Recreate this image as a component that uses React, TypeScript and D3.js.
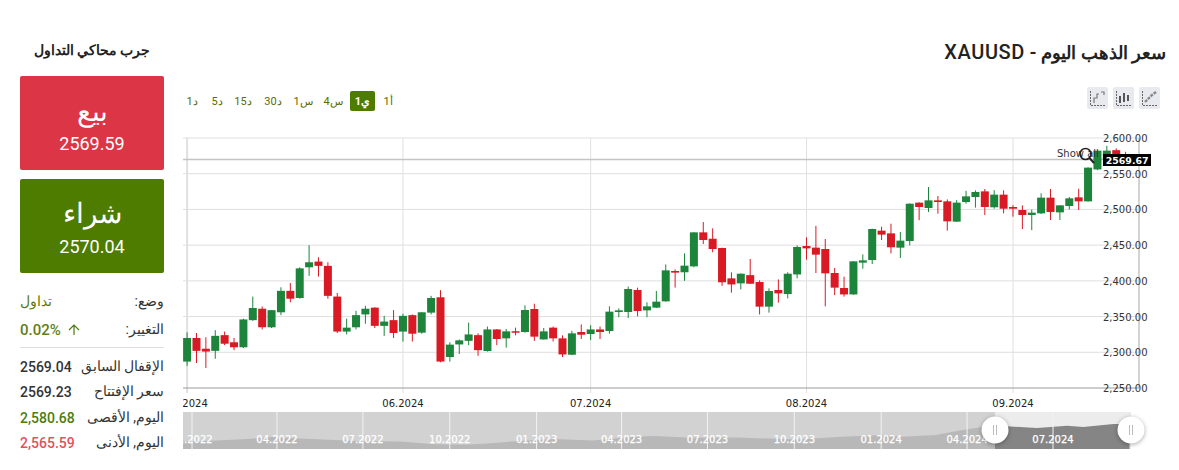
import React from "react";
import * as d3 from "d3";

// [open, high, low, close]
const candles: number[][] = [
[2287,2328,2281,2320],[2320,2327,2285,2302],[2305,2321,2278,2301],[2302,2331,2291,2323],[2324,2329,2310,2312],
[2314,2320,2303,2307],[2307,2347,2306,2346],[2345,2378,2344,2362],[2361,2364,2332,2335],[2335,2359,2334,2359],
[2356,2391,2352,2386],[2386,2397,2370,2375],[2376,2419,2375,2417.5],[2419,2450,2407,2426],[2427,2433,2406,2421],
[2421,2426,2375,2379],[2378,2383,2327,2329],[2329,2347,2325,2334.5],[2335,2358,2332,2352],[2353,2365,2340,2361],
[2362.5,2363,2334,2337],[2337,2351,2323,2343],[2345,2359,2320,2327],[2329,2354,2315,2351],[2352,2353,2315,2326],
[2327.5,2356,2326,2356],[2355.5,2379,2353,2376],[2377,2387,2286,2287],[2293.4,2314,2287,2310.7],[2311,2318,2297.6,2316.7],
[2316,2341.5,2310,2325],[2324,2326.5,2295,2303],[2301.8,2336,2301,2332],[2332,2332.6,2310,2318.6],[2319.5,2332.6,2306.5,2329.3],
[2329.5,2334.5,2323.7,2328],[2328.4,2365.7,2327.5,2359.2],[2360.6,2368,2316,2321.9],[2318,2334,2317.7,2329.3],[2334.5,2336,2315,2319.5],
[2319.5,2323.7,2293.4,2297],[2296.6,2330,2296,2326.5],[2328.4,2339,2318.6,2324.6],[2325.6,2338,2317,2332],[2332,2336,2318.6,2328.4],
[2329.8,2364.3,2326,2356.9],[2356.4,2361.5,2349,2358.7],[2356.4,2392,2348,2388.6],[2387.2,2390.5,2350.3,2357.8],[2358.7,2370,2349,2364.3],
[2362.5,2385.8,2362,2370.9],[2371.3,2423,2370.9,2414.7],[2413.8,2416,2390.5,2411.5],[2412,2438.5,2400,2421.3],[2420.3,2468,2419,2467.9],
[2467.9,2482.4,2451.6,2457.2],[2459,2473.5,2440,2444.6],[2446,2446.5,2393,2398],[2403.5,2412,2383.5,2395],[2396.5,2410.5,2388,2410],
[2408,2430.6,2395.6,2396],[2398.4,2400.7,2353,2363.9],[2363.9,2389.5,2355.5,2385.8],[2387.2,2402,2369.5,2382.5],[2381.6,2412,2375.5,2410],
[2409,2449.7,2403.5,2447.4],[2448.8,2461,2429.7,2445.5],[2446.5,2477,2411,2436.7],[2444.6,2458.6,2364.3,2410.5],[2411,2418,2380,2390.5],
[2390,2405.9,2377.9,2381],[2381,2427.5,2380.5,2427.3],[2425.5,2437,2417,2428.7],[2429.2,2473,2423.6,2472.6],[2470.3,2475.9,2457.2,2464.7],
[2466.5,2480,2438.5,2447],[2446.5,2468.4,2432,2456.3],[2455.8,2508.5,2449.7,2508],[2509.5,2510,2485,2503.4],[2502,2531.4,2496.4,2512.7],
[2512.7,2518.8,2494,2510.4],[2511.3,2514,2470.3,2483.3],[2482.9,2513,2482.4,2509.5],[2510.4,2526,2508,2518.3],[2517.4,2526.7,2502.5,2524.4],
[2525.3,2528.6,2492.2,2503.4],[2503,2527,2501,2520.7],[2520.7,2526.7,2494.5,2501],[2503.4,2506,2489.9,2501],[2499.2,2505.7,2472.6,2492.2],
[2492.2,2499.7,2471,2495.5],[2494.5,2522.5,2493.6,2516.5],[2516.5,2528.6,2485.2,2496.4],[2495.9,2506,2485.2,2505.7],[2504.8,2517.4,2500,2515.5],
[2516.9,2529,2499.2,2511.3],[2511.3,2559,2510.9,2558.5],[2556,2582,2555,2582.3],[2570,2589,2562,2582.3],[2583,2585.5,2565,2570],
[2569.23,2580.68,2565.59,2569.67],
];
const priceTicks = [2250,2300,2350,2400,2450,2500,2550,2600];
const monthTicks: [number,string][] = [[0,"05.2024"],[23,"06.2024"],[43,"07.2024"],[66,"08.2024"],[88,"09.2024"]];
const navDates = ["2021-12-20","2022-01-15","2022-03-01","2022-03-25","2022-04-20","2022-06-01","2022-07-01","2022-08-10","2022-09-15","2022-10-20","2022-11-10","2022-12-10","2023-01-20","2023-03-01","2023-04-15","2023-05-05","2023-06-15","2023-08-01","2023-10-05","2023-11-20","2023-12-28","2024-01-24","2024-02-28","2024-03-21","2024-04-15","2024-05-09","2024-06-14","2024-07-16","2024-08-02","2024-09-03","2024-09-20"];
const navPrices = [1800,1810,1900,1985,1930,1850,1800,1780,1660,1650,1700,1800,1900,1830,2000,2030,1950,1960,1880,2000,2060,2000,2076,2255,2421,2479,2390,2493,2435,2569,2569];
const navTicks = ["2022-01-01","2022-04-01","2022-07-01","2022-10-01","2023-01-01","2023-04-01","2023-07-01","2023-10-01","2024-01-01","2024-04-01","2024-07-01"];
const timeframes = ["1د","5د","15د","30د","1س","4س","1ي","1أ"];
const sideRows = [["الإقفال السابق","2569.04","#333"],["سعر الإفتتاح","2569.23","#333"],["اليوم, الأقصى","2,580.68","#4d7c0f"],["اليوم, الأدنى","2,565.59","#e0525e"]];

const GREEN="#1d843b", RED="#d91a25", FONT='Roboto, sans-serif', CHART='"DejaVu Sans", sans-serif';
const y = d3.scaleLinear().domain([2250,2600]).range([388,138]);
const x = d3.scaleLinear().domain([0,100]).range([187.1,1125.6]);
const navX = d3.scaleTime().domain([new Date("2022-01-01"),new Date("2024-07-01")]).range([192,1053]);
const navY = d3.scaleLinear().domain([1449,3107]).range([449,412]);
const navPts = navDates.map((d,i)=>[new Date(d),navPrices[i]] as [Date,number]);
const navArea = d3.area<[Date,number]>().x(d=>navX(d[0])).y0(449).y1(d=>navY(d[1]));
const fmt = d3.format(",.2f");

const Icon = ({x0,kind}:{x0:number,kind:number}) => (
  <g transform={`translate(${x0},87)`}>
    <rect width="21" height="22" rx="2" fill="#e8eaf0"/>
    <path d="M3.5 4V18.5H18" fill="none" stroke="#666" strokeWidth="1" strokeDasharray="2 1"/>
    {kind===0 && <path d="M7 16V11H10V7H12M14 5H17V8" fill="none" stroke="#777" strokeWidth="1.2"/>}
    {kind===1 && <path d="M7 9V16M11 6V15M15 8V14" stroke="#555" strokeWidth="2"/>}
    {kind===2 && <path d="M6 15L10 11L13 8L17 5" stroke="#888" strokeWidth="2.4" strokeDasharray="3 1" fill="none"/>}
  </g>
);
const Handle = ({cx}:{cx:number}) => (
  <g>
    <circle cx={cx} cy={430} r={13.5} fill="#fff" style={{filter:"drop-shadow(0 1px 2px rgba(0,0,0,.35))"}}/>
    <path d={`M${cx-1.5} 425V435M${cx+1.5} 425V435`} stroke="#bbb" strokeWidth="1"/>
  </g>
);
const Ar = (p:any) => <text direction="rtl" textAnchor={p.textAnchor||"start"} {...p}/>;

export default function App(){
  return (
    <svg width={1179} height={470} style={{position:"absolute",left:0,top:0,background:"#fff",fontFamily:FONT}}>
      {/* sidebar */}
      <Ar x={92} y={55} textAnchor="middle" fontSize={13.6} fontWeight={700} fill="#222">جرب محاكي التداول</Ar>
      <rect x={20} y={76} width={144} height={94} rx={2} fill="#dc3545"/>
      <Ar x={92} y={121} textAnchor="middle" fontSize={28} fill="#fff">بيع</Ar>
      <text x={92} y={150} textAnchor="middle" fontSize={18} fill="#fff">2569.59</text>
      <rect x={20} y={179} width={144} height={94} rx={2} fill="#4d7c00"/>
      <Ar x={92} y={223} textAnchor="middle" fontSize={28} fill="#fff">شراء</Ar>
      <text x={92} y={253} textAnchor="middle" fontSize={18} fill="#fff">2570.04</text>
      <Ar x={164} y={306} fontSize={14} fill="#333">وضع:</Ar>
      <Ar x={20} y={306} textAnchor="end" fontSize={14} fill="#5a7a00">تداول</Ar>
      <Ar x={164} y={334} fontSize={14} fill="#333">التغيير:</Ar>
      <text x={20} y={335} fontSize={15} fontWeight={500} fill="#5f7f16">0.02%</text>
      <path d="M74 335V325M69 330L74 325L79 330" fill="none" stroke="#4d7c0f" strokeWidth="1.2"/>
      <line x1={20} x2={164} y1={347.5} y2={347.5} stroke="#ddd"/>
      {sideRows.map((r,i)=>(
        <g key={i}>
          <Ar x={164} y={371+i*25.3} fontSize={14} fill="#333">{r[0]}</Ar>
          <text x={20} y={372+i*25.3} fontSize={14} fontWeight={500} fill={r[2]}>{r[1]}</text>
        </g>
      ))}
      {/* header */}
      <Ar x={1166} y={59} fontSize={18} fontWeight={700} fill="#222">سعر الذهب اليوم - <tspan fontSize={20} fontWeight={500} letterSpacing={0.6}>XAUUSD</tspan></Ar>
      {/* timeframes */}
      <rect x={350} y={91} width={25} height={20} rx={2} fill="#4d7c00"/>
      {timeframes.map((t,i)=>{
        const cx=[192,217,243,273,303,333,362.5,388][i];
        return <text key={t} x={cx} y={105} textAnchor="middle" fontSize={11} fontWeight={i===6?700:400} fill={i===6?"#fff":"#5c6b00"}>{t}</text>;
      })}
      <Icon x0={1087} kind={0}/><Icon x0={1113} kind={1}/><Icon x0={1139} kind={2}/>
      {/* grid */}
      {priceTicks.slice(1).map(t=><line key={t} x1={183} x2={1139} y1={y(t)} y2={y(t)} stroke="#dfdfdf"/>)}
      {monthTicks.map(([i])=><line key={i} x1={x(i)} x2={x(i)} y1={138} y2={393} stroke="#e0e0e0" strokeWidth={i===0?2:1}/>)}
      <line x1={183} x2={1139} y1={388} y2={388} stroke="#9a9a9a"/>
      <line x1={1139} x2={1139} y1={138} y2={388} stroke="#a8a8a8"/>
      <line x1={183} x2={1139} y1={159.5} y2={159.5} stroke="#c4c4c4" strokeWidth={1.6}/>
      {/* candles */}
      <g>
        {candles.map((c,i)=>{
          const [o,h,l,cl]=c; const up=cl>=o; const col=up?GREEN:RED; const cx=x(i);
          const t=y(Math.max(o,cl)), b=y(Math.min(o,cl));
          return <g key={i}>
            <line x1={cx} x2={cx} y1={y(h)} y2={y(l)} stroke={col} strokeWidth={1}/>
            <rect x={cx-4} y={t} width={8} height={Math.max(b-t,1.5)} fill={col}/>
          </g>;
        })}
      </g>
      {/* show all */}
      <text x={1057} y={157} fontFamily={CHART} fontSize={10} fill="#333">Show all</text>
      <circle cx={1085.5} cy={154} r={5.5} fill="none" stroke="#222" strokeWidth={1.6}/>
      <line x1={1089.5} x2={1094} y1={158} y2={163} stroke="#222" strokeWidth={2}/>
      {/* y axis */}
      {priceTicks.map(t=><text key={t} x={1147.5} y={y(t)+4} textAnchor="end" fontFamily={CHART} fontSize={10} fill="#333">{fmt(t)}</text>)}
      <rect x={1103} y={154} width={48} height={12} fill="#000"/>
      <text x={1148.5} y={164} textAnchor="end" fontFamily={CHART} fontSize={9.4} fontWeight={700} fill="#fff">2569.67</text>
      {/* x axis */}
      <svg x={183} y={395} width={960} height={16} overflow="hidden">
        {monthTicks.map(([i,s])=><text key={s} x={x(i)-183} y={12} textAnchor="middle" fontFamily={CHART} fontSize={10} fill="#222">{s}</text>)}
      </svg>
      {/* navigator */}
      <rect x={183} y={412} width={948} height={37} fill="#d2d2d2"/>
      <rect x={995} y={412} width={136} height={37} fill="#ececec"/>
      <clipPath id="navSel"><rect x={995} y={412} width={136} height={37}/></clipPath>
      <clipPath id="navLeft"><rect x={183} y={412} width={812} height={37}/></clipPath>
      <path d={navArea(navPts)||""} fill="#b8b8b8" clipPath="url(#navLeft)"/>
      <path d={navArea(navPts)||""} fill="#858585" clipPath="url(#navSel)"/>
      {navTicks.map(d=>{
        const px=navX(new Date(d));
        return <line key={d} x1={px} x2={px} y1={412} y2={449} stroke="#f2f2f2"/>;
      })}
      <svg x={183} y={412} width={948} height={37} overflow="hidden">
        {navTicks.map(d=>{
          const lab=d.slice(5,7)+"."+d.slice(0,4);
          return <text key={d} x={navX(new Date(d))-183} y={31} textAnchor="middle" fontFamily={CHART} fontSize={10} stroke="#fff" strokeWidth={0.25} fill="#fff">{lab}</text>;
        })}
      </svg>
      <Handle cx={995}/><Handle cx={1131}/>
    </svg>
  );
}
